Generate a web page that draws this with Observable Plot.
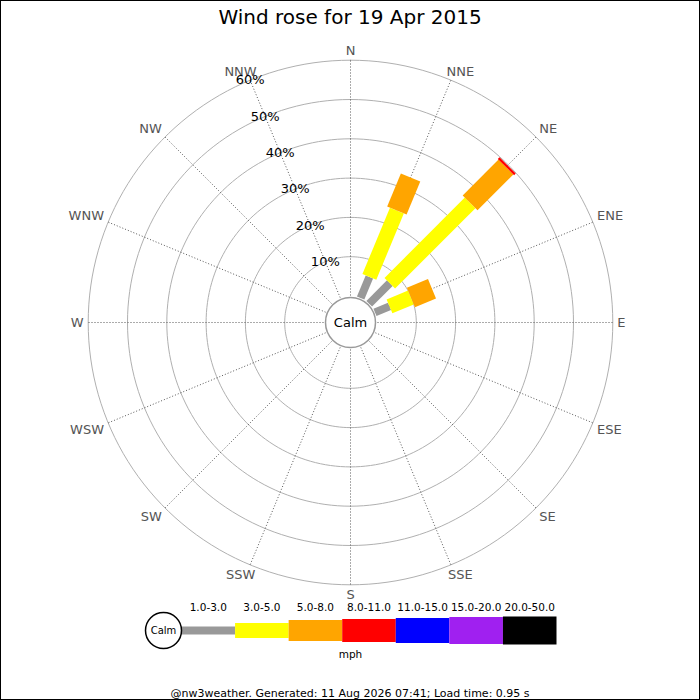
<!DOCTYPE html>
<html>
<head>
<meta charset="utf-8">
<script src="https://cdn.jsdelivr.net/npm/d3@7"></script>
<script src="https://cdn.jsdelivr.net/npm/@observablehq/plot@0.6"></script>
<style>
  body { margin: 0; background: #fff; font-family: "DejaVu Sans", sans-serif; }
  #frame { position: relative; width: 700px; height: 700px; overflow: hidden; }
  #title { position: absolute; top: 0; left: 0; width: 700px; text-align: center; font-size: 20px; line-height: 34px; }
  #rose { position: absolute; top: 34px; left: 0; }
  #legend { position: absolute; top: 595px; left: 0; }
  #footer { position: absolute; top: 687px; left: 0; width: 700px; text-align: center; font-size: 11px; line-height: 14px; }
  #border { position: absolute; top: 0; left: 0; width: 700px; height: 700px; box-sizing: border-box; border: 1px solid #000; pointer-events: none; }
</style>
</head>
<body>
<div id="frame">
  <div id="title">Wind rose for 19 Apr 2015</div>
  <div id="rose"></div>
  <div id="legend"></div>
  <div id="footer">@nw3weather. Generated: 11 Aug 2026 07:41; Load time: 0.95 s</div>
  <div id="border"></div>
</div>
<script>
const directions = ["N", "NNE", "NE", "ENE", "E", "ESE", "SE", "SSE", "S", "SSW", "SW", "WSW", "W", "WNW", "NW", "NNW"];
const speedBins = ["1.0-3.0", "3.0-5.0", "5.0-8.0", "8.0-11.0", "11.0-15.0", "15.0-20.0", "20.0-50.0"];
const binColors = ["#999999", "#ffff00", "#ffa500", "#ff0000", "#0000ff", "#a020f0", "#000000"];

// % of the day per direction, one list per speed bin (same order as directions)
const bin1to3   = [0, 5.8, 7.4, 4.0, 0, 0, 0, 0, 0, 0, 0, 0, 0, 0, 0, 0];
const bin3to5   = [0, 18.3, 28.9, 5.9, 0, 0, 0, 0, 0, 0, 0, 0, 0, 0, 0, 0];
const bin5to8   = [0, 9.1, 12.9, 5.8, 0, 0, 0, 0, 0, 0, 0, 0, 0, 0, 0, 0];
const bin8to11  = [0, 0, 0.6, 0, 0, 0, 0, 0, 0, 0, 0, 0, 0, 0, 0, 0];
const bin11to15 = [0, 0, 0, 0, 0, 0, 0, 0, 0, 0, 0, 0, 0, 0, 0, 0];
const bin15to20 = [0, 0, 0, 0, 0, 0, 0, 0, 0, 0, 0, 0, 0, 0, 0, 0];
const bin20to50 = [0, 0, 0, 0, 0, 0, 0, 0, 0, 0, 0, 0, 0, 0, 0, 0];
const ringTicks = [10, 20, 30, 40, 50, 60];

const series = [bin1to3, bin3to5, bin5to8, bin8to11, bin11to15, bin15to20, bin20to50];
const binWidths = [8, 15, 21, 23, 25, 27, 28]; // bar thickness, px

const k = 3.93;          // px per percent
const off = 26.5 / k;    // radial offset for the calm circle, in percent units
const outer = d3.max(ringTicks);
const step = 360 / directions.length;

function polar(p, deg) {
  const a = deg * Math.PI / 180, r = p + off;
  return [r * Math.sin(a), r * Math.cos(a)];
}

// stacked segments, outward from the calm circle
const segments = [];
directions.forEach((dir, i) => {
  let start = 0;
  series.forEach((vals, b) => {
    const v = vals[i];
    if (v > 0) segments.push({dir, angle: i * step, bin: b, p1: start, p2: start + v});
    start += v;
  });
});

const ringPts = ringTicks.flatMap(p => d3.range(0, 361, 2).map(a => ({p, a})));

// compass labels hang off the outer ring, anchored by side
const compassLabels = directions.map((dir, i) => {
  const a = i * step * Math.PI / 180, s = Math.sin(a), c = Math.cos(a);
  const side = v => Math.abs(v) < 0.01 ? 0 : Math.sign(v);
  const steep = Math.abs(s) < 0.5; // near N/S: keep centred, nudge sideways
  return Plot.text([dir], {
    x: () => polar(outer, i * step)[0],
    y: () => polar(outer, i * step)[1],
    text: d => d,
    textAnchor: steep ? "middle" : s > 0 ? "start" : "end",
    lineAnchor: side(c) > 0 ? "bottom" : side(c) < 0 ? "top" : "middle",
    dx: steep ? 25 * s : 4.5 * s,
    dy: -5 * c,
    fontSize: 13,
    fill: "#555"
  });
});

const rose = Plot.plot({
  width: 700,
  height: 566,
  margin: 0,
  style: {background: "transparent", overflow: "visible", fontFamily: "DejaVu Sans"},
  color: {type: "identity"},
  x: {domain: [-350 / k, 350 / k], axis: null},
  y: {domain: [-278 / k, 288 / k], axis: null},
  marks: [
    Plot.line(ringPts, {
      x: d => polar(d.p, d.a)[0],
      y: d => polar(d.p, d.a)[1],
      z: "p",
      stroke: "#b0b0b0",
      strokeWidth: 1
    }),
    Plot.link(directions, {
      x1: 0, y1: 0,
      x2: (d, i) => polar(outer, i * step)[0],
      y2: (d, i) => polar(outer, i * step)[1],
      stroke: "#444",
      strokeWidth: 0.9,
      strokeDasharray: "1,2"
    }),
    Plot.link(segments, {
      x1: d => polar(d.p1, d.angle)[0],
      y1: d => polar(d.p1, d.angle)[1],
      x2: d => polar(d.p2, d.angle)[0],
      y2: d => polar(d.p2, d.angle)[1],
      stroke: d => binColors[d.bin],
      strokeWidth: d => binWidths[d.bin],
      strokeLinecap: "butt"
    }),
    ...compassLabels,
    Plot.text(ringTicks, {
      x: p => polar(p, -step)[0],
      y: p => polar(p, -step)[1],
      text: p => `${p}%`,
      fontSize: 13,
      fill: "#000"
    }),
    Plot.dot(["Calm"], {x: 0, y: 0, r: 25, fill: "white", stroke: "#999"}),
    Plot.text(["Calm"], {x: 0, y: 0, text: d => d, fontSize: 13, fill: "#000"})
  ]
});
document.getElementById("rose").append(rose);

const legend = Plot.plot({
  width: 700,
  height: 70,
  margin: 0,
  style: {background: "transparent", overflow: "visible", fontFamily: "DejaVu Sans"},
  color: {type: "identity"},
  x: {domain: [0, speedBins.length], range: [181, 556], axis: null},
  y: {domain: [-1, 1], axis: null},
  marks: [
    Plot.link(speedBins, {
      x1: (d, i) => i,
      x2: (d, i) => i + 1,
      y1: 0, y2: 0,
      stroke: (d, i) => binColors[i],
      strokeWidth: (d, i) => binWidths[i],
      strokeLinecap: "butt"
    }),
    Plot.text(speedBins, {x: (d, i) => i + 0.5, y: 0, dy: -23, text: d => d, fontSize: 10.5, fill: "#000"}),
    Plot.dot(["Calm"], {x: 0, y: 0, dx: -18, r: 18, fill: "white", stroke: "#000"}),
    Plot.text(["Calm"], {x: 0, y: 0, dx: -18, text: d => d, fontSize: 10, fill: "#000"}),
    Plot.text(["mph"], {frameAnchor: "bottom", lineAnchor: "middle", dy: -11, text: d => d, fontSize: 10.5, fill: "#000"})
  ]
});
document.getElementById("legend").append(legend);
</script>
</body>
</html>
